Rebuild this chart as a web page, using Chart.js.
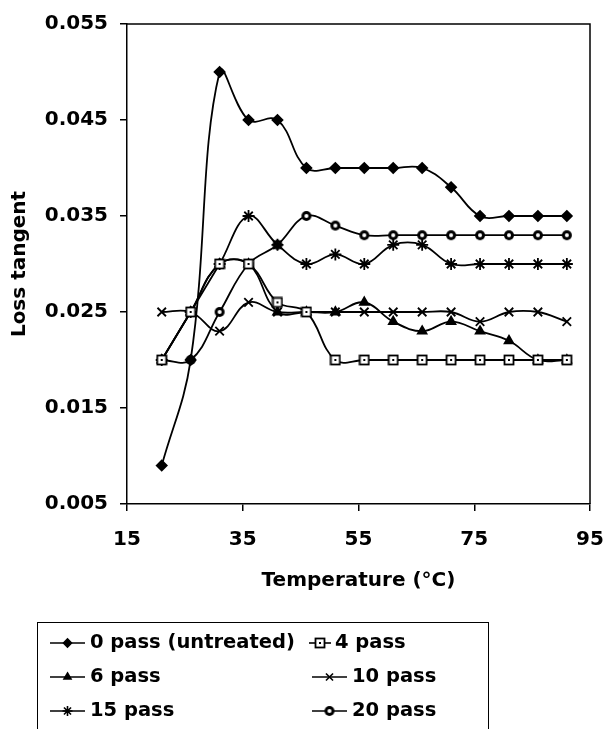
<!DOCTYPE html>
<html>
<head>
<meta charset="utf-8">
<script src="https://cdn.jsdelivr.net/npm/chart.js@4.4.0/dist/chart.umd.min.js"></script>
<style>
    html, body { margin: 0; padding: 0; background: #fff; }
    #wrap { width: 605px; height: 729px; }
</style>
</head>
<body>
<div id="wrap"><canvas id="myChart" width="605" height="729"></canvas></div>
<script>
// values
const temperatures = [21, 26, 31, 36, 41, 46, 51, 56, 61, 66, 71, 76, 81, 86, 91];
const pass0  = [0.009, 0.020, 0.050, 0.045, 0.045, 0.040, 0.040, 0.040, 0.040, 0.040, 0.038, 0.035, 0.035, 0.035, 0.035];
const pass4  = [0.020, 0.025, 0.030, 0.030, 0.026, 0.025, 0.020, 0.020, 0.020, 0.020, 0.020, 0.020, 0.020, 0.020, 0.020];
const pass6  = [0.020, 0.025, 0.030, 0.030, 0.025, 0.025, 0.025, 0.026, 0.024, 0.023, 0.024, 0.023, 0.022, 0.020, 0.020];
const pass10 = [0.025, 0.025, 0.023, 0.026, 0.025, 0.025, 0.025, 0.025, 0.025, 0.025, 0.025, 0.024, 0.025, 0.025, 0.024];
const pass15 = [0.020, 0.025, 0.030, 0.035, 0.032, 0.030, 0.031, 0.030, 0.032, 0.032, 0.030, 0.030, 0.030, 0.030, 0.030];
const pass20 = [0.020, 0.020, 0.025, 0.030, 0.032, 0.035, 0.034, 0.033, 0.033, 0.033, 0.033, 0.033, 0.033, 0.033, 0.033];

const seriesNames = ["0 pass (untreated)", "4 pass", "6 pass", "10 pass", "15 pass", "20 pass"];
const xTicks = [15, 35, 55, 75, 95];
const yTicks = [0.005, 0.015, 0.025, 0.035, 0.045, 0.055];

const FONT = "'DejaVu Sans', sans-serif";

// little canvases for the two markers Chart.js has no style for
const makeMarker = (draw) => {
    const c = document.createElement("canvas");
    c.width = 12;
    c.height = 12;
    const g = c.getContext("2d");
    draw(g);
    return c;
};

const squareDot = makeMarker((g) => {
    g.fillStyle = "#fff";
    g.fillRect(1.5, 1.5, 9, 9);
    g.strokeStyle = "#000";
    g.lineWidth = 1.8;
    g.strokeRect(1.5, 1.5, 9, 9);
    g.fillStyle = "#000";
    g.fillRect(5, 5, 2, 2);
});

const ringDot = makeMarker((g) => {
    g.fillStyle = "#000";
    g.beginPath();
    g.arc(6, 6, 5, 0, Math.PI * 2);
    g.fill();
    g.fillStyle = "#fff";
    g.beginPath();
    g.arc(6, 6, 2, 0, Math.PI * 2);
    g.fill();
});

const toPoints = (values) => temperatures.map((t, i) => ({ x: t, y: values[i] }));

const makeSeries = (label, values, pointStyle, radius) => ({
    label,
    data: toPoints(values),
    borderColor: "#000",
    backgroundColor: "#000",
    borderWidth: 1.8,
    pointStyle,
    pointRadius: radius,
    pointBorderWidth: 1.8,
    pointBorderColor: "#000",
    pointBackgroundColor: "#000",
    tension: 0.4,
    fill: false
});

const datasets = [
    makeSeries(seriesNames[0], pass0, "rectRot", 5),
    makeSeries(seriesNames[1], pass4, squareDot, 5),
    makeSeries(seriesNames[2], pass6, "triangle", 5),
    makeSeries(seriesNames[3], pass10, "crossRot", 6),
    makeSeries(seriesNames[4], pass15, "star", 6),
    makeSeries(seriesNames[5], pass20, ringDot, 5)
];

// legend layout, Excel style: two columns in a box cut by the bottom edge
const legendSlots = [
    { x1: 50, x2: 85, tx: 90, y: 643 },
    { x1: 309, x2: 331, tx: 335, y: 643 },
    { x1: 50, x2: 85, tx: 90, y: 677 },
    { x1: 312, x2: 347, tx: 352, y: 677 },
    { x1: 50, x2: 85, tx: 90, y: 711 },
    { x1: 312, x2: 347, tx: 352, y: 711 }
];

const frameAndLegend = {
    id: "frameAndLegend",
    afterDatasetsDraw(chart) {
        const { ctx, chartArea } = chart;
        ctx.save();
        ctx.strokeStyle = "#000";
        ctx.lineWidth = 1.5;
        ctx.beginPath();
        ctx.moveTo(chartArea.left, chartArea.top);
        ctx.lineTo(chartArea.right, chartArea.top);
        ctx.lineTo(chartArea.right, chartArea.bottom);
        ctx.stroke();
        ctx.restore();
    },
    afterDraw(chart) {
        const ctx = chart.ctx;
        ctx.save();
        ctx.strokeStyle = "#000";
        ctx.lineWidth = 1;
        ctx.strokeRect(37.5, 622.5, 451, 120);

        chart.data.datasets.forEach((ds, i) => {
            const s = legendSlots[i];
            ctx.strokeStyle = "#000";
            ctx.lineWidth = 1.6;
            ctx.beginPath();
            ctx.moveTo(s.x1, s.y);
            ctx.lineTo(s.x2, s.y);
            ctx.stroke();
            ctx.fillStyle = "#000";
            Chart.helpers.drawPoint(ctx, {
                pointStyle: ds.pointStyle,
                radius: ds.pointRadius - 1,
                borderWidth: 1.4,
                rotation: 0
            }, (s.x1 + s.x2) / 2, s.y);

            ctx.fillStyle = "#000";
            ctx.font = "bold 19.5px " + FONT;
            ctx.textBaseline = "middle";
            ctx.textAlign = "left";
            ctx.fillText(ds.label, s.tx, s.y);
        });
        ctx.restore();
    }
};

const ctx = document.getElementById("myChart").getContext("2d");
const myChart = new Chart(ctx, {
    type: "line",
    data: { datasets },
    options: {
        responsive: false,
        animation: false,
        layout: { padding: { top: 22, right: 0, bottom: 115, left: 0 } },
        plugins: {
            legend: { display: false },
            tooltip: { enabled: false }
        },
        scales: {
            x: {
                type: "linear",
                min: 15,
                max: 95,
                afterBuildTicks: (scale) => { scale.ticks = xTicks.map(v => ({ value: v })); },
                afterFit: (scale) => {
                    scale.height = 110;
                    scale.paddingRight = 15;
                },
                grid: { drawOnChartArea: false, drawTicks: true, tickLength: 7, color: "#000", lineWidth: 1.5 },
                border: { display: true, color: "#000", width: 1.5 },
                ticks: {
                    color: "#000",
                    padding: 17,
                    maxRotation: 0,
                    font: { family: FONT, size: 20, weight: "bold" }
                },
                title: {
                    display: true,
                    text: "Temperature (°C)",
                    color: "#000",
                    padding: { top: 0, bottom: 21 },
                    font: { family: FONT, size: 20, weight: "bold" }
                }
            },
            y: {
                type: "linear",
                min: 0.005,
                max: 0.055,
                afterBuildTicks: (scale) => { scale.ticks = yTicks.map(v => ({ value: v })); },
                afterFit: (scale) => { scale.width = 127; },
                grid: { drawOnChartArea: false, drawTicks: true, tickLength: 7, color: "#000", lineWidth: 1.5 },
                border: { display: true, color: "#000", width: 1.5 },
                ticks: {
                    color: "#000",
                    padding: 12,
                    font: { family: FONT, size: 20, weight: "bold" },
                    callback: (v) => v.toFixed(3)
                },
                title: {
                    display: true,
                    text: "Loss tangent",
                    color: "#000",
                    padding: { top: 8, bottom: 0 },
                    font: { family: FONT, size: 20, weight: "bold" }
                }
            }
        }
    },
    plugins: [frameAndLegend]
});
</script>
</body>
</html>
